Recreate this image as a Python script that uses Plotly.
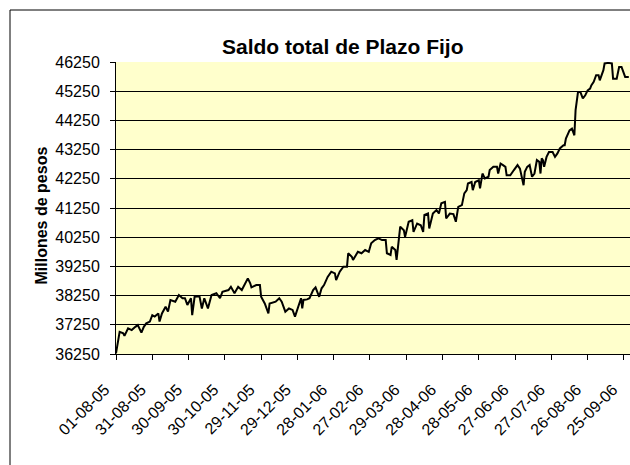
import pandas as pd
import plotly.graph_objects as go

FUENTE = "Arial, Liberation Sans, sans-serif"

# Saldo diario (millones de pesos); días contados desde el 01-08-05
INICIO = "2005-08-01"
FIN = "2006-09-30"

dias = [
    0, 3, 6, 7, 10, 13, 16, 18, 21, 23, 25, 28, 30, 32, 35, 36, 38, 41, 43, 45,
    49, 52, 55, 57, 59, 62, 63, 65, 69, 71, 73, 76, 79, 83, 86, 88, 93, 95, 98, 101,
    104, 107, 109, 111, 112, 116, 119, 120, 123, 126, 127, 132, 135, 137, 140, 143, 146, 148, 151, 153,
    154, 155, 158, 160, 163, 165, 168, 170, 172, 175, 178, 181, 182, 185, 188, 191, 192, 195, 196, 200,
    203, 206, 209, 211, 214, 217, 220, 223, 224, 227, 228, 231, 232, 235, 238, 239, 242, 245, 246, 249,
    252, 254, 255, 258, 259, 262, 265, 267, 269, 272, 273, 276, 279, 281, 283, 286, 288, 290, 291, 294,
    295, 297, 300, 301, 303, 305, 308, 309, 312, 315, 316, 318, 320, 322, 323, 326, 329, 332, 333, 334,
    337, 338, 340, 342, 344, 346, 348, 350, 351, 352, 353, 354, 356, 358, 361, 363, 364, 365, 367, 370,
    371, 372, 375, 377, 379, 380, 382, 384, 386, 388, 390, 392, 393, 395, 397, 399, 400, 402, 403, 404,
    407, 410, 411, 414, 416, 418, 420, 421, 424,
]

saldo = [
    36270, 37010, 36960, 36870, 37130, 37070, 37180, 37240, 36980, 37180, 37300, 37360, 37580, 37530, 37640, 37360, 37640, 37870, 37700, 38100,
    38040, 38270, 38160, 38160, 37930, 38160, 37580, 38210, 38230, 37810, 38160, 37810, 38270, 38330, 38160, 38380, 38440, 38550, 38330, 38550,
    38440, 38670, 38840, 38670, 38530, 38610, 38610, 38210, 37980, 37640, 37980, 38040, 38160, 38040, 37700, 37810, 37760, 37530, 37870, 38160,
    37810, 38100, 38120, 38160, 38440, 38530, 38210, 38500, 38610, 38890, 39070, 39010, 38780, 39070, 39240, 39240, 39700, 39580, 39470, 39750,
    39700, 39810, 39750, 40040, 40150, 40210, 40150, 40150, 39700, 39640, 39920, 39810, 39470, 40610, 40490, 40260, 40780, 40830, 40430, 40720,
    40660, 40430, 41010, 41060, 40550, 41060, 41180, 41060, 41410, 41460, 40890, 41060, 41040, 40780, 41290, 41350, 41750, 41860, 42090, 42140,
    41860, 42140, 42200, 41920, 42430, 42260, 42320, 42550, 42660, 42660, 42430, 42770, 42720, 42660, 42370, 42370, 42550, 42720, 42660, 42600,
    42030, 42490, 42660, 42720, 42320, 42430, 42890, 42830, 42430, 42950, 42890, 42660, 43000, 43170, 43170, 43000, 43060, 43120, 43290, 43400,
    43400, 43630, 43910, 43970, 43740, 44600, 45220, 45220, 45000, 45110, 45280, 45340, 45450, 45570, 45800, 45800, 45620, 45850, 45970, 46200,
    46220, 46200, 45680, 45680, 46080, 46080, 45800, 45740, 45740,
]

etiquetas_x = [
    "01-08-05", "31-08-05", "30-09-05", "30-10-05", "29-11-05", "29-12-05", "28-01-06",
    "27-02-06", "29-03-06", "28-04-06", "28-05-06", "27-06-06", "27-07-06", "26-08-06", "25-09-06",
]
marcas_y = [36250, 37250, 38250, 39250, 40250, 41250, 42250, 43250, 44250, 45250, 46250]

fechas = pd.to_datetime(INICIO) + pd.to_timedelta(dias, unit="D")
fechas_x = pd.to_datetime(etiquetas_x, format="%d-%m-%y")

W, H = 630, 465
L, R, T, B = 116, 0, 62, 111


def px_x(p):
    return (p - L) / (W - L - R)


def px_y(p):
    return (H - B - p) / (H - T - B)


fig = go.Figure()
fig.add_scatter(x=fechas, y=saldo, mode="lines",
                line=dict(color="#000000", width=2), hoverinfo="skip")

fig.update_layout(
    width=W, height=H, margin=dict(l=L, r=R, t=T, b=B),
    paper_bgcolor="#FFFFFF", plot_bgcolor="#FFFFCC",
    showlegend=False, font=dict(family=FUENTE, color="#000000", size=16),
)
# las etiquetas de fecha quedan algo abajo y a la izquierda de su marca, como en Excel
fig.update_xaxes(
    type="date", range=[INICIO, FIN], automargin=False,
    tickvals=fechas_x, ticktext=etiquetas_x,
    tickangle=-45, ticklabeloverflow="allow",
    ticklabelstandoff=14, ticklabelshift=-11,
    ticks="outside", ticklen=5, tickcolor="#000000",
    showline=True, linecolor="#000000", linewidth=1,
    showgrid=False, zeroline=False, tickfont=dict(size=16),
)
fig.update_yaxes(
    range=[marcas_y[0], marcas_y[-1]], automargin=False,
    tickvals=marcas_y, ticktext=[str(v) for v in marcas_y], ticklabelstandoff=7,
    ticks="outside", ticklen=5, tickcolor="#000000",
    showline=True, linecolor="#000000", linewidth=1,
    showgrid=True, gridcolor="#000000", gridwidth=1,
    zeroline=False, tickfont=dict(size=16),
)

# título y rótulo del eje
fig.add_annotation(text="<b>Saldo total de Plazo Fijo</b>", xref="paper", yref="paper",
                   x=px_x(343), y=px_y(33), showarrow=False, font=dict(size=21))
fig.add_annotation(text="<b>Millones de pesos</b>", xref="paper", yref="paper",
                   x=px_x(30), y=px_y(216), textangle=-90, showarrow=False,
                   font=dict(size=16))

# borde del área del gráfico (solo se ven los lados izquierdo y superior)
fig.add_shape(type="line", xref="paper", yref="paper",
              x0=px_x(10), y0=px_y(10), x1=px_x(640), y1=px_y(10),
              line=dict(color="#000000", width=1))
fig.add_shape(type="line", xref="paper", yref="paper",
              x0=px_x(10), y0=px_y(10), x1=px_x(10), y1=px_y(475),
              line=dict(color="#000000", width=1))

# sin margen del <body>, para que la figura ocupe justo la ventana
fig.write_html("out.html", config={"displayModeBar": False},
               post_script="document.body.style.margin='0';"
                           "document.body.style.overflow='hidden';")
